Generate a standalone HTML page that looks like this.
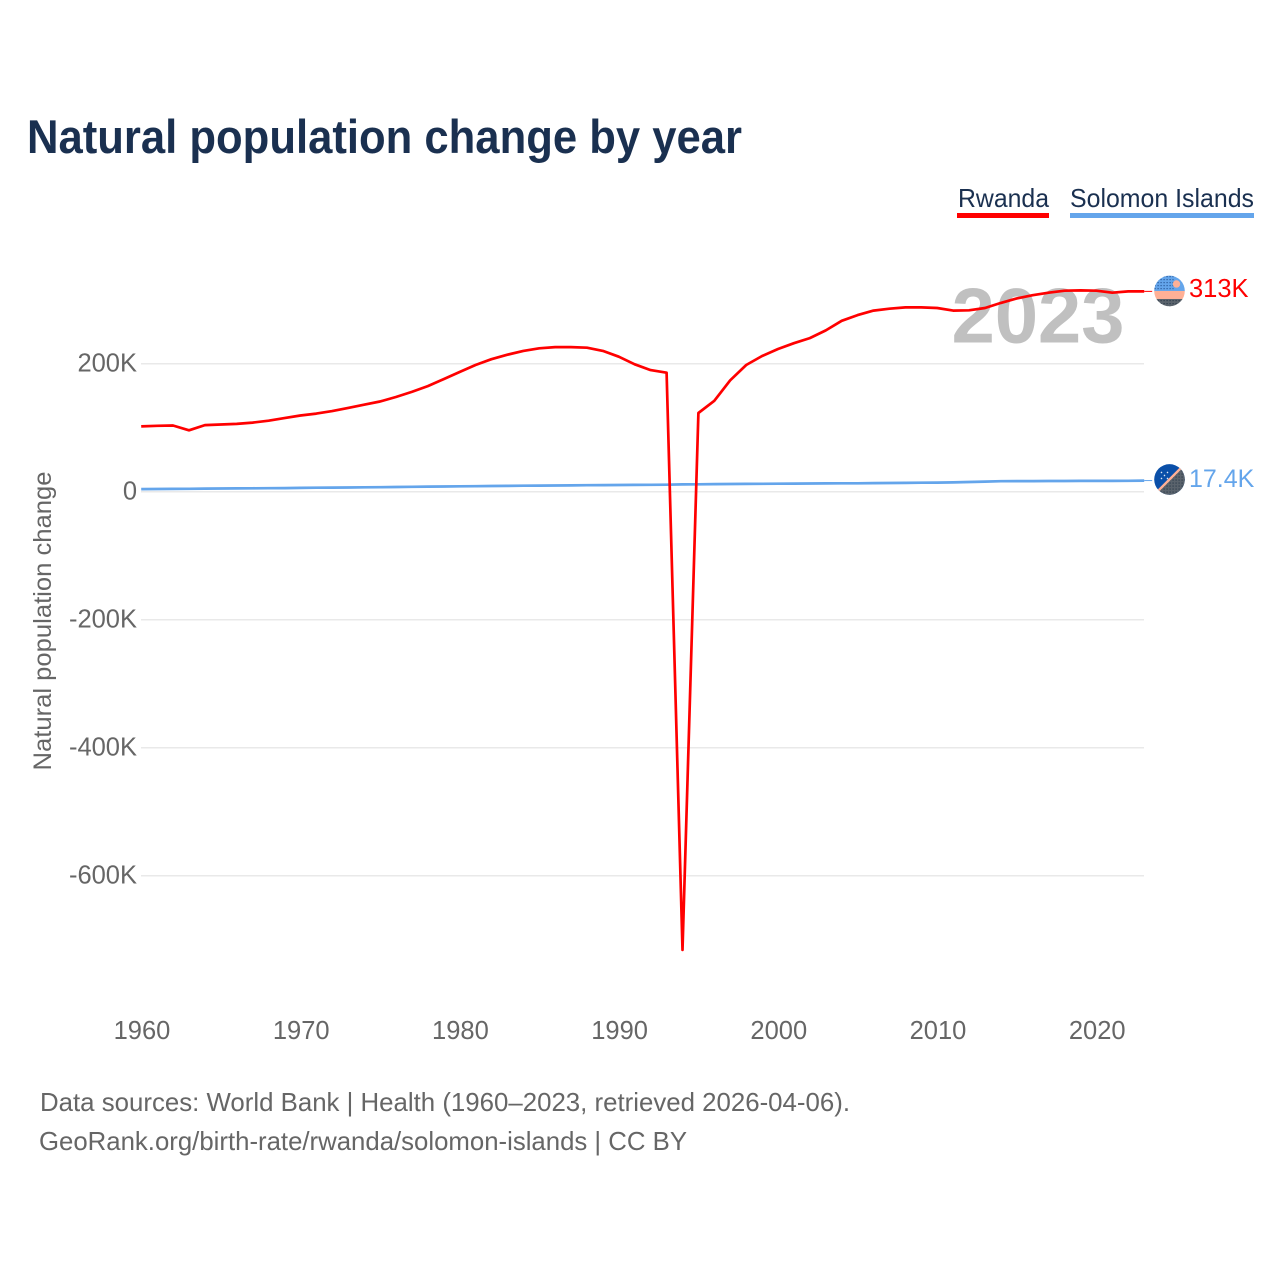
<!DOCTYPE html>
<html lang="en">
<head>
<meta charset="utf-8">
<title>Natural population change by year</title>
<style>
html,body{margin:0;padding:0;background:#fff;width:1280px;height:1280px;overflow:hidden}
svg{display:block;font-family:"Liberation Sans",sans-serif}
</style>
</head>
<body>
<svg id="chart" width="1280" height="1280" viewBox="0 0 1280 1280" xmlns="http://www.w3.org/2000/svg">
  <defs>
    <clipPath id="flag-clip"><circle cx="0" cy="0" r="15.3"></circle></clipPath>
    <pattern id="dots-dark" width="3" height="3" patternUnits="userSpaceOnUse"><rect width="1.2" height="1.2" fill="#2c3a4a"></rect></pattern>
    <pattern id="dots-blue" width="3" height="3" patternUnits="userSpaceOnUse"><rect width="1.2" height="1.2" fill="#2a5a9a"></rect></pattern>
  </defs>
  <text x="27" y="153" font-size="47.5" font-weight="700" fill="#1a3050" textLength="715" lengthAdjust="spacingAndGlyphs">Natural population change by year</text>

  <g>
    <g>
      <text x="958" y="207" font-size="26" fill="#1a3050" textLength="91" lengthAdjust="spacingAndGlyphs">Rwanda</text>
      <rect x="957" y="213" width="92" height="5" fill="#ff0000"></rect>
    </g>
    <g>
      <text x="1070" y="207" font-size="26" fill="#1a3050" textLength="184" lengthAdjust="spacingAndGlyphs">Solomon Islands</text>
      <rect x="1070" y="213" width="184" height="5" fill="#64a5eb"></rect>
    </g>
  </g>

  <g id="grid"></g>
  <text x="951.5" y="342.5" font-size="78" font-weight="700" fill="#c0c0c0" textLength="173">2023</text>
  <g id="y-ticks"></g>
  <g id="x-ticks"></g>
  <text transform="translate(51 770.5) rotate(-90)" font-size="25" fill="#666666" textLength="299" lengthAdjust="spacingAndGlyphs">Natural population change</text>

  <g id="series"></g>

  <g id="flag-rwanda">
    <g clip-path="url(#flag-clip)">
      <rect x="-16" y="-16" width="32" height="16" fill="#64a5eb"></rect>
      <rect x="-16" y="-16" width="20" height="16" fill="url(#dots-blue)"></rect>
      <circle cx="7" cy="-7" r="3.7" fill="#ffb096"></circle>
      <rect x="-16" y="0" width="32" height="8" fill="#ffb096"></rect>
      <rect x="-16" y="8" width="32" height="8" fill="#5a636c"></rect>
      <rect x="-16" y="8" width="32" height="8" fill="url(#dots-dark)"></rect>
    </g>
  </g>
  <g id="flag-solomon">
    <g clip-path="url(#flag-clip)">
      <rect x="-16" y="-16" width="32" height="32" fill="#0a4fa8"></rect>
      <polygon points="16,-16 16,16 -16,16" fill="#5a636c"></polygon>
      <polygon points="16,-16 16,16 -16,16" fill="url(#dots-dark)"></polygon>
      <line x1="-16" y1="16" x2="16" y2="-16" stroke="#ffb096" stroke-width="2.4"></line>
      <circle cx="-8" cy="-7" r="0.8" fill="#dfe8f5"></circle>
      <circle cx="-2" cy="-7" r="0.8" fill="#dfe8f5"></circle>
      <circle cx="-5" cy="-4" r="0.8" fill="#dfe8f5"></circle>
      <circle cx="-8" cy="-1" r="0.8" fill="#dfe8f5"></circle>
      <circle cx="-2" cy="-1" r="0.8" fill="#dfe8f5"></circle>
    </g>
  </g>
  <g id="value-labels"></g>

  <text x="40" y="1111" font-size="26" fill="#666666" textLength="810" lengthAdjust="spacingAndGlyphs">Data sources: World Bank | Health (1960–2023, retrieved 2026-04-06).</text>
  <text x="39" y="1150" font-size="26" fill="#666666" textLength="648" lengthAdjust="spacingAndGlyphs">GeoRank.org/birth-rate/rwanda/solomon-islands | CC BY</text>
</svg>
<script>
const startYear = 1960;
const xTickYears = [1960, 1970, 1980, 1990, 2000, 2010, 2020];
const yTickValues = [200, 0, -200, -400, -600];
const yTickLabels = ["200K", "0", "-200K", "-400K", "-600K"];
const rwandaValues = [102, 103, 103.5, 96, 104, 105, 106, 108, 111, 115, 119, 122, 126, 131, 136, 141, 148, 156, 165, 176, 187, 198, 207, 214, 220, 224, 226, 226, 225, 220, 211, 199, 190, 186, -716, 123, 142, 174, 198, 212, 223, 232, 240, 252, 267, 276, 283, 286, 288, 288, 287, 283, 283.5, 287, 295, 302, 307, 311, 314, 314.5, 314, 311, 313, 313];
const solomonValues = [4, 4.2, 4.4, 4.6, 4.8, 5, 5.1, 5.3, 5.5, 5.7, 6, 6.2, 6.4, 6.6, 6.9, 7.1, 7.4, 7.6, 7.9, 8.1, 8.4, 8.6, 8.9, 9.1, 9.3, 9.5, 9.7, 9.9, 10.1, 10.3, 10.5, 10.6, 10.8, 11, 11.4, 11.6, 11.8, 12, 12.2, 12.4, 12.5, 12.7, 12.8, 13, 13.1, 13.2, 13.4, 13.6, 13.8, 14, 14.2, 14.6, 15.2, 15.8, 16.4, 16.5, 16.6, 16.7, 16.7, 16.8, 16.8, 16.9, 17.1, 17.4];
const endLabels = ["313K", "17.4K"];

const NS = "http://www.w3.org/2000/svg";
const xScale = function (year) { return 141.2 + (year - 1960) * 15.92; };
const yScale = function (v) { return 491.7 - v * 0.64; };
const make = function (tag, parent, attrs) {
  const el = document.createElementNS(NS, tag);
  Object.keys(attrs).forEach(function (k) { el.setAttribute(k, attrs[k]); });
  parent.appendChild(el);
  return el;
};

const grid = document.getElementById("grid");
const yTicks = document.getElementById("y-ticks");
yTickValues.forEach(function (v, i) {
  const line = make("line", grid, { x1: 141, x2: 1144, y1: yScale(v), y2: yScale(v), stroke: "#e9e9e9", "stroke-width": 1.5 });
  
  
  const t = make("text", yTicks, { x: 137, y: yScale(v) + 8, "text-anchor": "end", "font-size": 25.5, fill: "#666666" });
  
  
  t.textContent = yTickLabels[i];
});

const xTicks = document.getElementById("x-ticks");
xTickYears.forEach(function (yr) {
  const t = make("text", xTicks, { x: xScale(yr) + 0.8, y: 1039, "text-anchor": "middle", "font-size": 25.5, fill: "#666666" });
  
  
  t.textContent = yr;
});

const series = document.getElementById("series");
const pointsFor = function (vals) {
  return vals.map(function (v, i) { return xScale(startYear + i).toFixed(1) + "," + yScale(v).toFixed(1); }).join(" ");
};
const lastX = xScale(startYear + rwandaValues.length - 1);

const solomonLine = make("polyline", series, { points: pointsFor(solomonValues), fill: "none", stroke: "#64a5eb", "stroke-width": 2.7, "stroke-linejoin": "round" });


const rwandaLine = make("polyline", series, { points: pointsFor(rwandaValues), fill: "none", stroke: "#ff0000", "stroke-width": 2.7, "stroke-linejoin": "round" });



const rwandaEnd = yScale(rwandaValues[rwandaValues.length - 1]);
const solomonEnd = yScale(solomonValues[solomonValues.length - 1]);

const leaderA = make("line", series, { x1: lastX, x2: lastX + 8, y1: rwandaEnd, y2: rwandaEnd, stroke: "#ff0000", "stroke-width": 1 });


const leaderB = make("line", series, { x1: lastX, x2: lastX + 8, y1: solomonEnd, y2: solomonEnd, stroke: "#64a5eb", "stroke-width": 1 });



document.getElementById("flag-rwanda").setAttribute("transform", "translate(1169.5 " + (rwandaEnd - 0.4) + ")");
document.getElementById("flag-solomon").setAttribute("transform", "translate(1169.5 " + (solomonEnd - 1.1) + ")");

const labels = document.getElementById("value-labels");
const labelA = make("text", labels, { x: 1189, y: rwandaEnd + 5.6, "font-size": 25.5, fill: "#ff0000" });


labelA.textContent = endLabels[0];
const labelB = make("text", labels, { x: 1189, y: solomonEnd + 6.4, "font-size": 25, fill: "#64a5eb" });


labelB.textContent = endLabels[1];
</script>
</body>
</html>
